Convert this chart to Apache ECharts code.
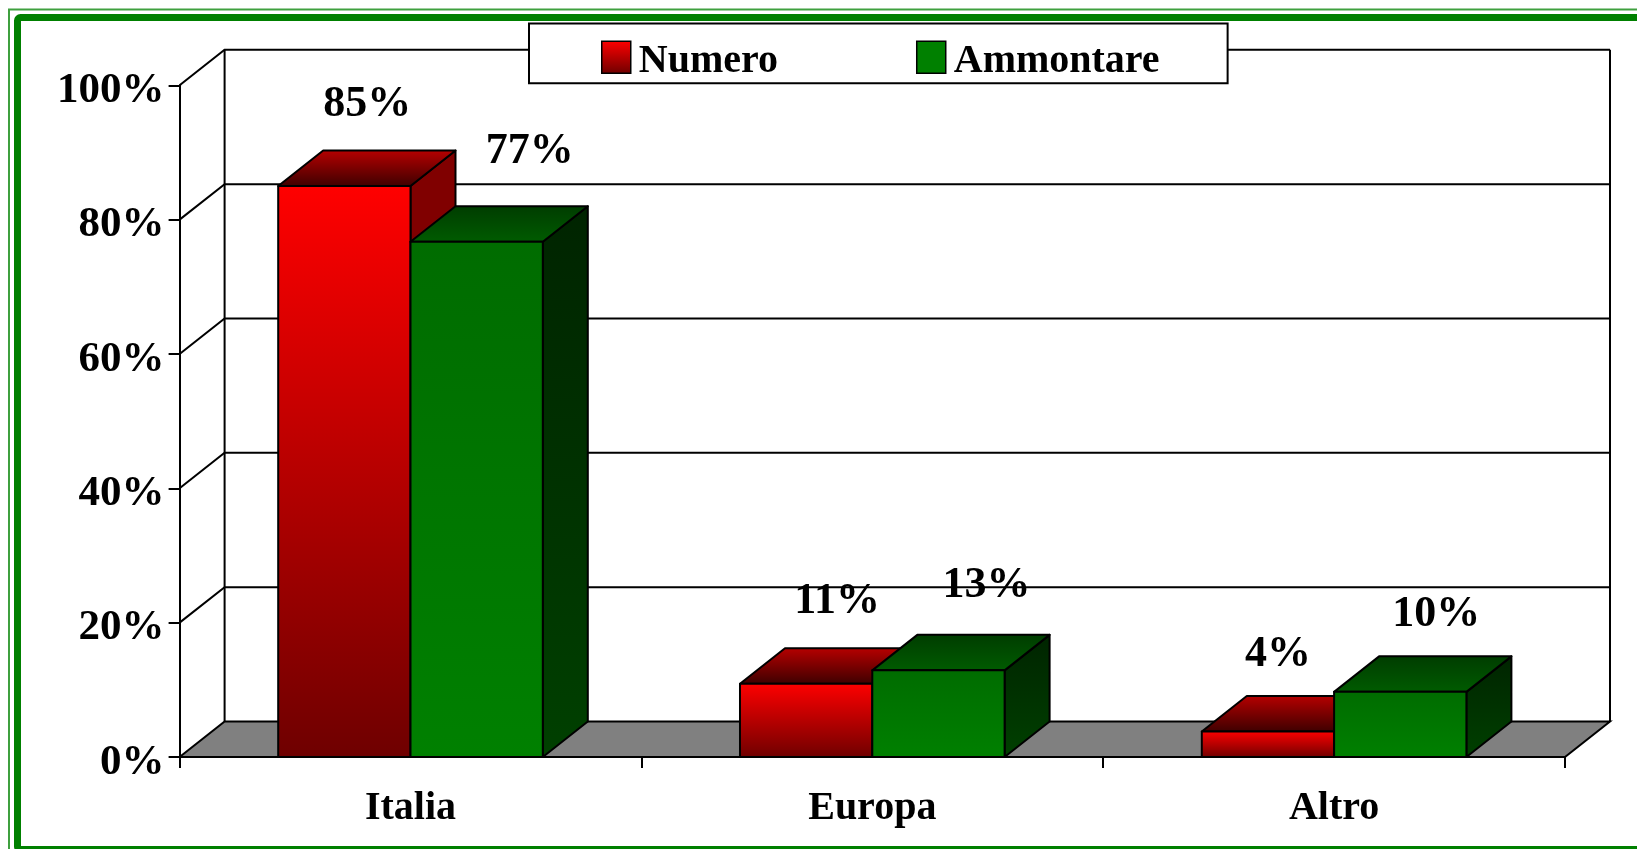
<!DOCTYPE html>
<html><head><meta charset="utf-8">
<style>html,body{margin:0;padding:0;background:#fff}#c{width:1637px;height:849px}</style>
<script src="https://cdn.jsdelivr.net/npm/echarts@6/dist/echarts.min.js"></script>
</head><body><div id="c"></div>
<script>
const categories = ['Italia', 'Europa', 'Altro'];
const numero = [85, 10.9, 3.8];
const ammontare = [76.7, 12.9, 9.7];
const yTicks = [0, 20, 40, 60, 80, 100];

const FONT = '"Liberation Serif","Times New Roman",serif';
const DX = 45, DY = 35.5, BAR = 0.2865;
const grad = (a, b) => new echarts.graphic.LinearGradient(0, 0, 0, 1, [{offset: 0, color: a}, {offset: 1, color: b}]);

const styles = {
  Numero: {front: ['#ff0000', '#6e0000'], top: ['#b80000', '#3c0000'], side: ['#800000', '#800000']},
  Ammontare: {front: ['#006c00', '#008000'], top: ['#003c00', '#005c00'], side: ['#002400', '#004000']}
};
// hand-placed label nudges of the original, relative to the top of each box
const nudgeNumero = [[23, -46], [31, -47], [10, -41]];
const nudgeAmmontare = [[53, -55], [48, -49], [36, -42]];

function box(name, sign, nudges) {
  const s = styles[name];
  return function (params, api) {
    const p = api.coord([api.value(0), api.value(1)]);
    const base = api.coord([api.value(0), 0]);
    const w = api.size([1, 0])[0] * BAR;
    const x0 = sign < 0 ? p[0] - w : p[0];
    const x1 = x0 + w, yt = p[1], yb = base[1];
    const st = {stroke: '#000', lineWidth: 2, lineJoin: 'round'};
    const n = nudges[params.dataIndex];
    return {type: 'group', children: [
      {type: 'polygon', shape: {points: [[x1, yb], [x1 + DX, yb - DY], [x1 + DX, yt - DY], [x1, yt]]},
        style: Object.assign({fill: grad(s.side[0], s.side[1])}, st)},
      {type: 'polygon', shape: {points: [[x0, yt], [x0 + DX, yt - DY], [x1 + DX, yt - DY], [x1, yt]]},
        style: Object.assign({fill: grad(s.top[0], s.top[1])}, st)},
      {type: 'rect', shape: {x: x0, y: yt, width: w, height: yb - yt},
        style: Object.assign({fill: grad(s.front[0], s.front[1])}, st)},
      {type: 'text', z2: 50, style: {x: x0 + w / 2 + n[0], y: yt - DY + n[1],
        text: Math.round(api.value(1)) + '%', fill: '#000', align: 'center', verticalAlign: 'middle',
        font: 'bold 44px ' + FONT}}
    ]};
  };
}

function backdrop(params, api) {
  const v = api.value(0);
  const y = api.coord([0, v])[1];
  const cs = params.coordSys;
  const l = cs.x, r = cs.x + cs.width;
  const ln = {stroke: '#000', lineWidth: 2};
  const kids = [];
  if (v === 0) {
    const yTop = api.coord([0, yTicks[yTicks.length - 1]])[1];
    kids.push({type: 'polygon', shape: {points: [[l, y], [l + DX, y - DY], [r + DX, y - DY], [r, y]]},
      style: {fill: '#808080', stroke: '#000', lineWidth: 2}});
    kids.push({type: 'line', shape: {x1: l + DX, y1: y - DY, x2: l + DX, y2: yTop - DY}, style: ln});
    kids.push({type: 'line', shape: {x1: r + DX, y1: y - DY, x2: r + DX, y2: yTop - DY}, style: ln});
  } else {
    kids.push({type: 'polyline', shape: {points: [[l, y], [l + DX, y - DY], [r + DX, y - DY]]}, style: Object.assign({fill: 'none'}, ln)});
  }
  return {type: 'group', children: kids};
}

const chart = echarts.init(document.getElementById('c'), null, {renderer: 'canvas'});
chart.setOption({
  animation: false,
  backgroundColor: '#fff',
  textStyle: {fontFamily: FONT},
  graphic: [
    {type: 'rect', z: 0, shape: {x: 9, y: 9.5, width: 1800, height: 1000}, style: {fill: 'none', stroke: '#3fa03f', lineWidth: 2}},
    {type: 'rect', z: 0, shape: {x: 17.5, y: 17.5, width: 1800, height: 832, r: 3}, style: {fill: 'none', stroke: '#008000', lineWidth: 7}}
  ],
  grid: {left: 179.6, right: 72, top: 85.3, bottom: 92},
  legend: {
    left: 529, top: 23.5, orient: 'horizontal',
    backgroundColor: '#fff', borderColor: '#000', borderWidth: 2, borderRadius: 0,
    padding: [17, 68, 2, 72], itemGap: 138, itemWidth: 29, itemHeight: 32,
    icon: 'rect',
    formatter: '{n|{name}}',
    textStyle: {fontFamily: FONT, fontWeight: 'bold', fontSize: 40, color: '#000',
      rich: {n: {fontFamily: FONT, fontWeight: 'bold', fontSize: 40, color: '#000', padding: [8, 0, 0, 3]}}},
    data: [
      {name: 'Numero', itemStyle: {color: grad('#ff0000', '#6e0000'), borderColor: '#000', borderWidth: 1.5}},
      {name: 'Ammontare', itemStyle: {color: '#008000', borderColor: '#000', borderWidth: 1.5}}
    ]
  },
  xAxis: {
    type: 'category', data: categories,
    axisLine: {show: true, lineStyle: {color: '#000', width: 2}},
    axisTick: {show: true, alignWithLabel: false, length: 11, lineStyle: {color: '#000', width: 2}},
    axisLabel: {color: '#000', fontFamily: FONT, fontWeight: 'bold', fontSize: 40, margin: 32}
  },
  yAxis: {
    type: 'value', min: 0, max: 100, interval: 20,
    splitLine: {show: false},
    axisLine: {show: true, lineStyle: {color: '#000', width: 2}},
    axisTick: {show: true, length: 11, lineStyle: {color: '#000', width: 2}},
    axisLabel: {color: '#000', fontFamily: FONT, fontWeight: 'bold', fontSize: 43, margin: 15,
      verticalAlign: 'top', lineHeight: 11, formatter: '{value}%'}
  },
  series: [
    {type: 'custom', name: '_wall', silent: true, z: 1, renderItem: backdrop, data: yTicks.map(v => [v]), encode: {y: 0}, clip: false},
    {type: 'custom', name: 'Numero', z: 2, clip: false, renderItem: box('Numero', -1, nudgeNumero),
      itemStyle: {color: '#ff0000'}, data: numero.map((v, i) => [i, v]), encode: {x: 0, y: 1}},
    {type: 'custom', name: 'Ammontare', z: 3, clip: false, renderItem: box('Ammontare', 1, nudgeAmmontare),
      itemStyle: {color: '#008000'}, data: ammontare.map((v, i) => [i, v]), encode: {x: 0, y: 1}}
  ]
});
</script></body></html>
